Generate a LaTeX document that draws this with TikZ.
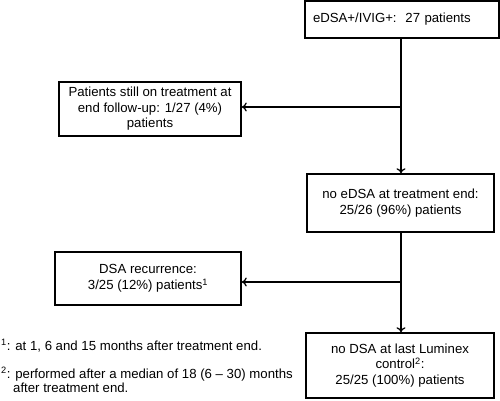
\documentclass[tikz,border=0pt]{standalone}
\usepackage{fontspec}
\setmainfont{Liberation Sans}
\usetikzlibrary{arrows.meta}
\begin{document}
\begin{tikzpicture}[x=1pt,y=-1pt,
  box/.style={draw, line width=1.5pt, align=center, inner sep=0pt,
    font=\fontsize{13.2}{15.5}\selectfont},
  conn/.style={line width=1.3pt, -{To[length=5pt,width=9pt,line width=1.3pt]}},
  note/.style={anchor=base west, inner sep=0pt, font=\fontsize{13.2}{15.5}\selectfont}]
\useasboundingbox (0,0) rectangle (500,400);
\node[box, minimum width=194pt, minimum height=37pt, text width=178pt, align=left, inner xsep=8pt] (b1) at (402,19.5) {eDSA+/IVIG+:\ \ 27 patients};
\node[box, minimum width=182pt, minimum height=54pt] (b2) at (150,109) {Patients still on treatment at\\end follow-up: 1/27 (4\%)\\patients};
\node[box, minimum width=187pt, minimum height=58pt] (b3) at (400.5,203) {no eDSA at treatment end:\\25/26 (96\%) patients};
\node[box, minimum width=186pt, minimum height=53pt] (b4) at (148,278.5) {DSA recurrence:\\3/25 (12\%) patients\textsuperscript{1}};
\node[box, minimum width=188pt, minimum height=65pt] (b5) at (400,365.5) {no DSA at last Luminex\\control\textsuperscript{2}:\\25/25 (100\%) patients};
\coordinate (t1) at (401,107);
\coordinate (t2) at (401,282);
\draw[conn] (b1.south -| t1) -- (b3.north -| t1);
\draw[conn] (t1) -- (b2.east |- t1);
\draw[conn] (b3.south -| t2) -- (b5.north -| t2);
\draw[conn] (t2) -- (b4.east |- t2);
\node[note] (n1) at (1,350) {\textsuperscript{1}: at 1, 6 and 15 months after treatment end.};
\node[note] (n2) at (1,378) {\textsuperscript{2}: performed after a median of 18 (6 – 30) months};
\node[note] (n3) at (13,392) {after treatment end.};
\end{tikzpicture}
\end{document}
